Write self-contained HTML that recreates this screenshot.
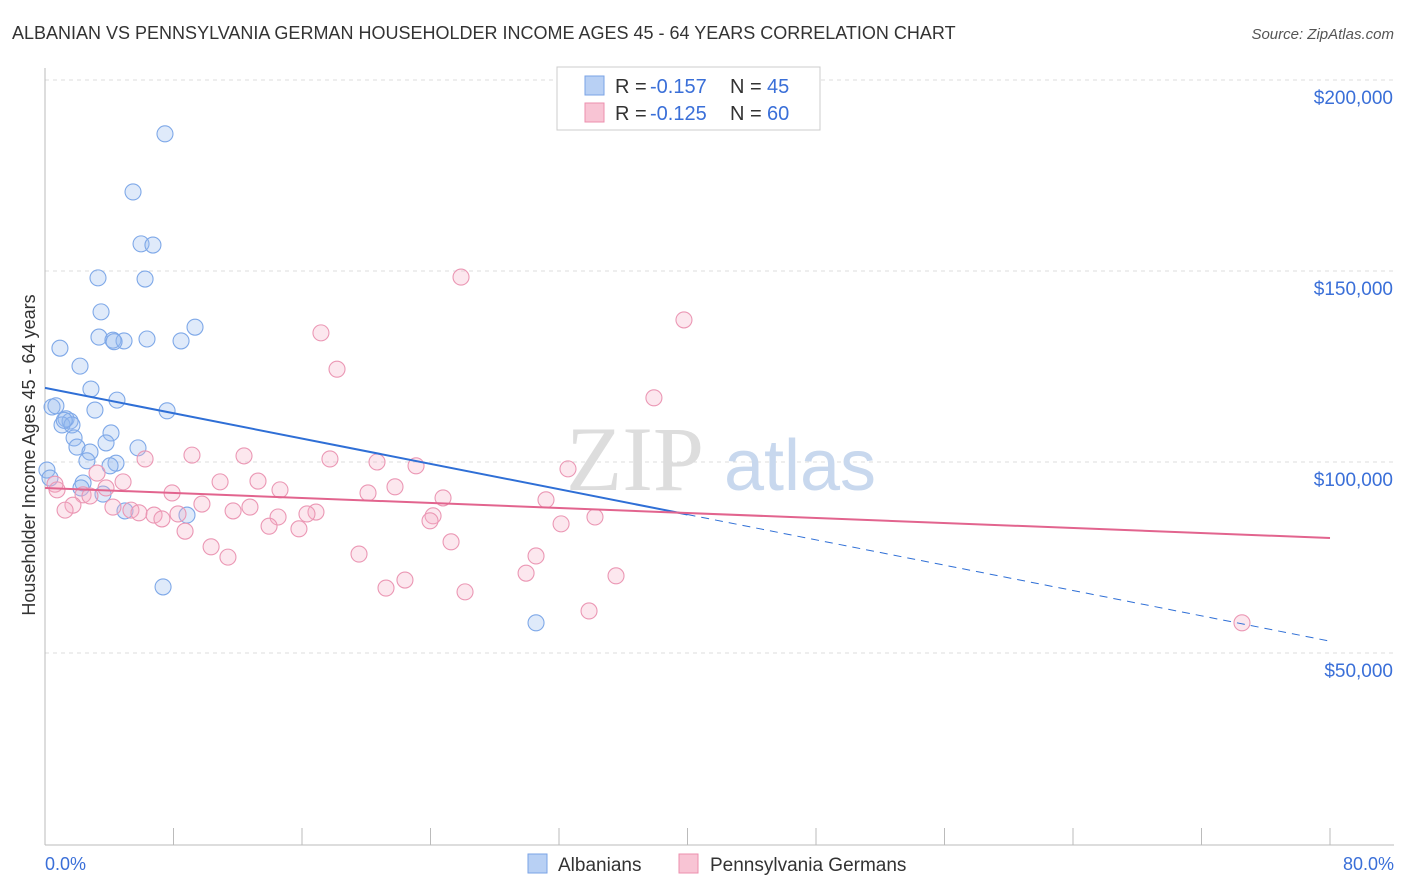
<!DOCTYPE html>
<html><head><meta charset="utf-8"><style>
body{margin:0;background:#fff;font-family:"Liberation Sans",sans-serif;}
svg{display:block}
</style></head><body>
<svg id="chart" width="1406" height="892">
<text x="12" y="39" font-size="18" fill="#333">ALBANIAN VS PENNSYLVANIA GERMAN HOUSEHOLDER INCOME AGES 45 - 64 YEARS CORRELATION CHART</text>
<text x="1394" y="39" font-size="15" fill="#555" font-style="italic" text-anchor="end">Source: ZipAtlas.com</text>
<g id="grid"></g>
<g><text x="635" y="490" font-size="92" fill="#ddd" font-family="Liberation Serif,serif" text-anchor="middle">ZIP</text><text x="800" y="490" font-size="72" fill="#c8d8ee" text-anchor="middle">atlas</text></g>
<g id="axes"></g>
<g id="pts"></g>
<g id="lines"></g>
<text x="35" y="455" font-size="18" fill="#333" text-anchor="middle" transform="rotate(-90 35 455)">Householder Income Ages 45 - 64 years</text>
<text x="45" y="870" font-size="18" fill="#3a6fd8">0.0%</text>
<text x="1394" y="870" font-size="18" fill="#3a6fd8" text-anchor="end">80.0%</text>
<g>
<rect x="557" y="67" width="263" height="63" fill="#fff" stroke="#ccc"/>
<rect x="585" y="76" width="19" height="19" fill="#b8d0f4" stroke="#7aa3e6"/>
<rect x="585" y="103" width="19" height="19" fill="#f8c4d4" stroke="#ec8fae"/>
<text y="93" font-size="20" fill="#333"><tspan x="615">R =</tspan><tspan x="650" fill="#3a6fd8">-0.157</tspan><tspan x="730">N =</tspan><tspan x="767" fill="#3a6fd8">45</tspan></text>
<text y="120" font-size="20" fill="#333"><tspan x="615">R =</tspan><tspan x="650" fill="#3a6fd8">-0.125</tspan><tspan x="730">N =</tspan><tspan x="767" fill="#3a6fd8">60</tspan></text>
</g>
<g>
<rect x="528" y="854" width="19" height="19" fill="#b8d0f4" stroke="#7aa3e6"/>
<text x="558" y="871" font-size="19" fill="#333">Albanians</text>
<rect x="679" y="854" width="19" height="19" fill="#f8c4d4" stroke="#ec8fae"/>
<text x="710" y="871" font-size="19" fill="#333">Pennsylvania Germans</text>
</g>
</svg>
<script>
const yTicks=[50000,100000,150000,200000];
const yTickLabels=["$50,000","$100,000","$150,000","$200,000"];
const albX=[7.47,5.48,5.98,6.72,3.30,6.23,3.49,9.34,3.36,4.23,4.92,6.35,8.47,0.93,2.18,2.86,4.48,0.44,0.68,3.11,7.60,1.31,1.56,1.06,1.68,4.11,1.81,3.80,1.99,5.79,2.80,2.61,4.42,4.05,0.12,0.31,2.37,2.24,3.61,4.98,8.84,7.35,30.57,1.2,4.3];
const albY=[185.9,170.7,157.1,156.8,148.2,147.9,139.3,135.3,132.7,131.9,131.7,132.2,131.7,129.8,125.1,119.1,116.2,114.4,114.7,113.6,113.4,111.3,110.7,109.7,109.7,107.6,106.3,105.0,103.9,103.7,102.6,100.3,99.7,99.0,97.9,95.8,94.5,93.2,91.6,87.2,86.1,67.3,57.9,110.9,131.5];
const pgX=[25.90,39.78,17.18,18.18,37.91,9.15,12.39,6.23,17.74,20.67,23.10,32.56,3.24,10.90,13.26,4.86,0.62,3.80,21.79,14.63,0.75,7.91,20.11,2.37,2.80,24.78,31.19,9.77,4.23,12.76,1.74,1.25,5.35,11.71,16.87,16.31,5.85,6.79,8.28,14.51,34.24,24.16,7.28,23.97,13.95,32.13,15.81,8.72,25.28,10.34,11.39,19.55,30.57,29.95,35.55,22.41,21.23,26.15,33.87,74.52];
const pgY=[148.4,137.2,133.8,124.3,116.8,101.8,101.6,100.8,100.8,100.0,99.0,98.2,97.1,94.8,95.0,94.8,94.2,93.2,93.5,92.7,92.7,91.9,91.9,91.4,91.1,90.6,90.1,89.0,88.2,88.2,88.7,87.4,87.4,87.2,86.9,86.4,86.7,86.1,86.4,85.6,85.6,85.9,85.1,84.6,83.2,83.8,82.5,81.9,79.1,77.8,75.1,75.9,75.4,70.9,70.2,69.1,67.0,66.0,61.0,57.9];
const albTrend=[119.4,53.1]; const pgTrend=[93.2,80.1]; const albSolidEnd=40;
const NS="http://www.w3.org/2000/svg";
const xs=p=>45+p/80*1285;
const ys=v=>844-v/50000*191;
function mk(parent,tag,attrs){const e=document.createElementNS(NS,tag);for(const k in attrs)e.setAttribute(k,attrs[k]);document.getElementById(parent).appendChild(e);return e;}
yTicks.forEach((t,i)=>{
  const l=mk('grid','line',{x1:45,x2:1394,y1:ys(t),y2:ys(t),stroke:'#ddd','stroke-dasharray':'4,4'});
  
  
  const tx=mk('grid','text',{x:1393,y:ys(t)+24,'font-size':19,fill:'#3a6fd8','text-anchor':'end'});
  tx.textContent=yTickLabels[i];
  
  
});
const ax=mk('axes','line',{x1:45,x2:45,y1:68,y2:845,stroke:'#bbb'});


const bx=mk('axes','line',{x1:45,x2:1394,y1:845,y2:845,stroke:'#bbb'});


for(let i=0;i<=10;i++){const t=mk('axes','line',{x1:xs(i*8),x2:xs(i*8),y1:828,y2:845,stroke:'#bbb'});

}
albX.forEach((x,i)=>{const c=mk('pts','circle',{cx:xs(x),cy:ys(albY[i]*1000),r:8,fill:'rgba(150,185,240,0.3)',stroke:'#7ea8e8','stroke-width':1.1});

});
pgX.forEach((x,i)=>{const c=mk('pts','circle',{cx:xs(x),cy:ys(pgY[i]*1000),r:8,fill:'rgba(245,175,200,0.3)',stroke:'#eb97b4','stroke-width':1.1});

});
const aAt=p=>(albTrend[0]+(albTrend[1]-albTrend[0])*p/80)*1000;
let l1=mk('lines','line',{x1:xs(0),y1:ys(aAt(0)),x2:xs(albSolidEnd),y2:ys(aAt(albSolidEnd)),stroke:'#2f6fd6','stroke-width':2});


let l2=mk('lines','line',{x1:xs(albSolidEnd),y1:ys(aAt(albSolidEnd)),x2:xs(80),y2:ys(aAt(80)),stroke:'#2f6fd6','stroke-width':1,'stroke-dasharray':'8,6'});


let l3=mk('lines','line',{x1:xs(0),y1:ys(pgTrend[0]*1000),x2:xs(80),y2:ys(pgTrend[1]*1000),stroke:'#e2648e','stroke-width':2});


</script>
</body></html>
